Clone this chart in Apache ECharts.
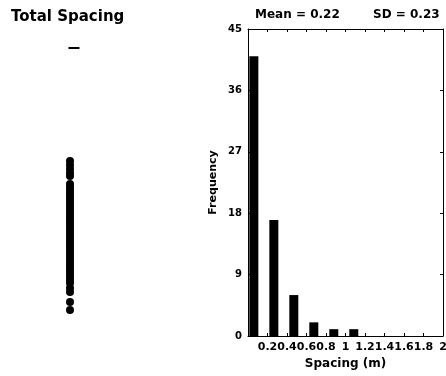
<!DOCTYPE html>
<html><head><meta charset="utf-8">
<script src="https://cdn.jsdelivr.net/npm/echarts@6/dist/echarts.min.js"></script>
<style>html,body{margin:0;padding:0;background:#fff}#c{width:446px;height:376px}</style>
</head><body><div id="c"></div>
<script>
// Histogram data
const binCenters = [0.06, 0.265, 0.47, 0.675, 0.88, 1.085];
const frequencies = [41, 17, 6, 2, 1, 1];
const yTicks = [0, 9, 18, 27, 36, 45];
const xTickLabels = ['0.2','0.4','0.6','0.8','1','1.2','1.4','1.6','1.8','2'];
// Strip of positions (left panel, arbitrary units along the line)
const stripPositions = [12.1, 12.5, 12.9, 13.3, 13.6, 14.4, 14.7, 15.0, 15.3, 15.6, 15.9, 16.2, 16.5, 16.8, 17.1, 17.4, 17.7, 18.0, 18.3, 18.6, 18.9, 19.2, 19.5, 19.8, 20.1, 20.4, 20.7, 21.0, 21.3, 21.6, 21.9, 22.2, 22.5, 22.8, 23.1, 23.4, 23.7, 24.0, 24.3, 24.8, 25.2, 26.2, 27.0];
const startMark = [0.8];

const F = 'DejaVu Sans, Liberation Sans, sans-serif';
const chart = echarts.init(document.getElementById('c'));
const axisBlack = {show:true, onZero:false, lineStyle:{color:'#000',width:1}};
const tick = {show:true, inside:true, length:3, lineStyle:{color:'#000'}};
chart.setOption({
  animation:false,
  title:[
    {text:'Total Spacing', left:6, top:5, textStyle:{fontFamily:F, fontWeight:'bold', fontSize:15, color:'#000'}},
    {text:'Mean = 0.22', left:250, top:4, textStyle:{fontFamily:F, fontWeight:'bold', fontSize:12, color:'#000'}},
    {text:'SD = 0.23', left:368, top:4, textStyle:{fontFamily:F, fontWeight:'bold', fontSize:12, color:'#000'}}
  ],
  grid:[
    {left:30, width:80, top:40, height:280, outerBoundsMode:'none'},
    {left:248, right:3, top:29, bottom:40, outerBoundsMode:'none'}
  ],
  xAxis:[
    {gridIndex:0, type:'value', min:-1, max:1, show:false},
    {gridIndex:1, type:'value', min:0, max:2, interval:0.2, position:'bottom',
     name:'Spacing (m)', nameLocation:'middle', nameGap:20,
     nameTextStyle:{fontFamily:F, fontWeight:'bold', fontSize:12, color:'#000'},
     axisLine:axisBlack, axisTick:tick, splitLine:{show:false},
     axisLabel:{showMinLabel:false, hideOverlap:false, margin:6, fontFamily:F, fontWeight:'bold', fontSize:11, color:'#000',
       formatter:(v)=>{const s=(Math.round(v*10)/10).toString(); return xTickLabels.indexOf(s)>=0?s:'';}}},
    {gridIndex:1, type:'value', min:0, max:2, interval:0.2, position:'top',
     axisLine:axisBlack, axisTick:tick, axisLabel:{show:false}, splitLine:{show:false}}
  ],
  yAxis:[
    {gridIndex:0, type:'value', min:0, max:28, inverse:true, show:false},
    {gridIndex:1, type:'value', min:0, max:45, interval:9, position:'left',
     name:'Frequency', nameLocation:'middle', nameGap:29, nameRotate:90,
     nameTextStyle:{fontFamily:F, fontWeight:'bold', fontSize:11, color:'#000'},
     axisLine:axisBlack, axisTick:tick, splitLine:{show:false},
     axisLabel:{margin:6, fontFamily:F, fontWeight:'bold', fontSize:10, color:'#000',
       formatter:(v)=>yTicks.indexOf(v)>=0?String(v):''}},
    {gridIndex:1, type:'value', min:0, max:45, interval:9, position:'right',
     axisLine:axisBlack, axisTick:tick, axisLabel:{show:false}, splitLine:{show:false}}
  ],
  series:[
    {type:'scatter', xAxisIndex:0, yAxisIndex:0, symbol:'circle', symbolSize:8,
     itemStyle:{color:'#000', opacity:1}, data:stripPositions.map(p=>[0,p])},
    {type:'scatter', xAxisIndex:0, yAxisIndex:0, symbol:'rect', symbolSize:[11,2],
     itemStyle:{color:'#000', opacity:1}, data:startMark.map(p=>[0.1,p])},
    {type:'bar', xAxisIndex:1, yAxisIndex:1, barWidth:9, itemStyle:{color:'#000'},
     data:binCenters.map((c,i)=>[c, frequencies[i]])}
  ]
});
</script></body></html>
